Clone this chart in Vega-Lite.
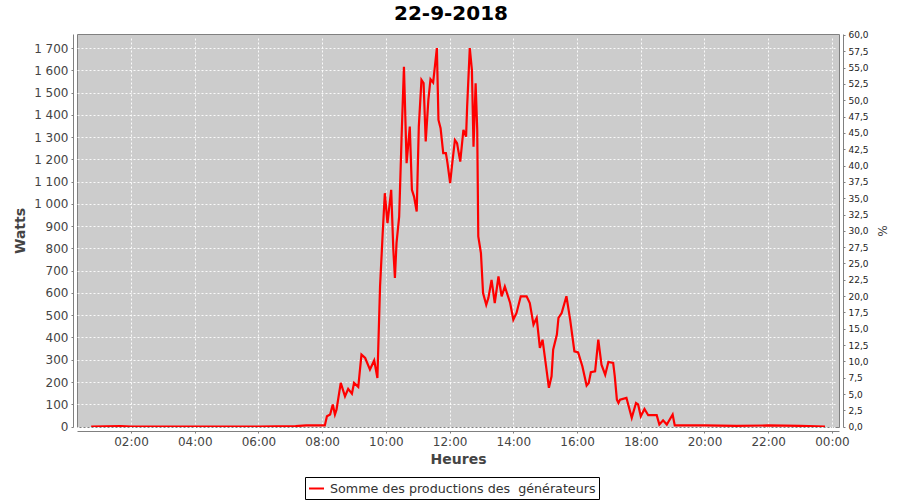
{
  "$schema": "https://vega.github.io/schema/vega-lite/v6.json",
  "width": 762,
  "height": 393,
  "autosize": {"type": "none"},
  "padding": {"left": 77, "top": 34, "right": 61, "bottom": 73},
  "background": "white",
  "title": {"text": "22-9-2018", "fontSize": 20, "fontWeight": "bold", "font": "DejaVu Sans", "color": "#000000", "anchor": "middle", "offset": 7, "dx": -7},
  "config": {
    "font": "DejaVu Sans",
    "view": {"fill": "#cccccc", "stroke": "#808080", "strokeWidth": 1},
    "axis": {
      "domainColor": "#808080", "tickColor": "#808080", "tickSize": 2,
      "labelFont": "DejaVu Sans", "labelFontSize": 12, "labelColor": "#444444",
      "titleFont": "DejaVu Sans", "titleFontSize": 14, "titleFontWeight": "bold", "titleColor": "#444444",
      "gridColor": "#ffffff", "gridDash": [2, 2], "gridWidth": 1, "gridOpacity": 0.9,
      "offset": 4, "labelPadding": 3
    }
  },
  "data": {"values": [
    {"t": "2018-09-22T00:45", "w": 0},
    {"t": "2018-09-22T01:40", "w": 2},
    {"t": "2018-09-22T02:00", "w": 0},
    {"t": "2018-09-22T04:00", "w": 0},
    {"t": "2018-09-22T06:00", "w": 0},
    {"t": "2018-09-22T07:10", "w": 2},
    {"t": "2018-09-22T07:30", "w": 5},
    {"t": "2018-09-22T08:00", "w": 5},
    {"t": "2018-09-22T08:05", "w": 5},
    {"t": "2018-09-22T08:09", "w": 46},
    {"t": "2018-09-22T08:15", "w": 54},
    {"t": "2018-09-22T08:20", "w": 99},
    {"t": "2018-09-22T08:24", "w": 54},
    {"t": "2018-09-22T08:27", "w": 76},
    {"t": "2018-09-22T08:35", "w": 196},
    {"t": "2018-09-22T08:43", "w": 136},
    {"t": "2018-09-22T08:49", "w": 169},
    {"t": "2018-09-22T08:56", "w": 148},
    {"t": "2018-09-22T09:00", "w": 196},
    {"t": "2018-09-22T09:08", "w": 178},
    {"t": "2018-09-22T09:14", "w": 323},
    {"t": "2018-09-22T09:21", "w": 308},
    {"t": "2018-09-22T09:30", "w": 256},
    {"t": "2018-09-22T09:38", "w": 297},
    {"t": "2018-09-22T09:44", "w": 218},
    {"t": "2018-09-22T09:49", "w": 629},
    {"t": "2018-09-22T09:54", "w": 869},
    {"t": "2018-09-22T09:58", "w": 1048},
    {"t": "2018-09-22T10:03", "w": 914},
    {"t": "2018-09-22T10:10", "w": 1063},
    {"t": "2018-09-22T10:14", "w": 794},
    {"t": "2018-09-22T10:17", "w": 667},
    {"t": "2018-09-22T10:20", "w": 824},
    {"t": "2018-09-22T10:25", "w": 943},
    {"t": "2018-09-22T10:30", "w": 1332},
    {"t": "2018-09-22T10:34", "w": 1616},
    {"t": "2018-09-22T10:39", "w": 1183},
    {"t": "2018-09-22T10:45", "w": 1347},
    {"t": "2018-09-22T10:49", "w": 1063},
    {"t": "2018-09-22T10:53", "w": 1033},
    {"t": "2018-09-22T10:58", "w": 966},
    {"t": "2018-09-22T11:02", "w": 1347},
    {"t": "2018-09-22T11:07", "w": 1557},
    {"t": "2018-09-22T11:11", "w": 1542},
    {"t": "2018-09-22T11:15", "w": 1280},
    {"t": "2018-09-22T11:20", "w": 1467},
    {"t": "2018-09-22T11:24", "w": 1560},
    {"t": "2018-09-22T11:29", "w": 1545},
    {"t": "2018-09-22T11:36", "w": 1700},
    {"t": "2018-09-22T11:39", "w": 1377},
    {"t": "2018-09-22T11:43", "w": 1340},
    {"t": "2018-09-22T11:48", "w": 1228},
    {"t": "2018-09-22T11:53", "w": 1228},
    {"t": "2018-09-22T11:56", "w": 1183},
    {"t": "2018-09-22T12:01", "w": 1093},
    {"t": "2018-09-22T12:05", "w": 1183},
    {"t": "2018-09-22T12:10", "w": 1287},
    {"t": "2018-09-22T12:14", "w": 1273},
    {"t": "2018-09-22T12:20", "w": 1190},
    {"t": "2018-09-22T12:26", "w": 1332},
    {"t": "2018-09-22T12:31", "w": 1302},
    {"t": "2018-09-22T12:33", "w": 1437},
    {"t": "2018-09-22T12:38", "w": 1700},
    {"t": "2018-09-22T12:42", "w": 1601},
    {"t": "2018-09-22T12:45", "w": 1257},
    {"t": "2018-09-22T12:49", "w": 1542},
    {"t": "2018-09-22T12:52", "w": 1332},
    {"t": "2018-09-22T12:54", "w": 854},
    {"t": "2018-09-22T12:59", "w": 779},
    {"t": "2018-09-22T13:03", "w": 600},
    {"t": "2018-09-22T13:09", "w": 547},
    {"t": "2018-09-22T13:13", "w": 577},
    {"t": "2018-09-22T13:19", "w": 659},
    {"t": "2018-09-22T13:25", "w": 555},
    {"t": "2018-09-22T13:32", "w": 674},
    {"t": "2018-09-22T13:38", "w": 585},
    {"t": "2018-09-22T13:44", "w": 629},
    {"t": "2018-09-22T13:54", "w": 555},
    {"t": "2018-09-22T14:00", "w": 480},
    {"t": "2018-09-22T14:06", "w": 510},
    {"t": "2018-09-22T14:14", "w": 585},
    {"t": "2018-09-22T14:25", "w": 585},
    {"t": "2018-09-22T14:31", "w": 555},
    {"t": "2018-09-22T14:38", "w": 458},
    {"t": "2018-09-22T14:44", "w": 488},
    {"t": "2018-09-22T14:50", "w": 353},
    {"t": "2018-09-22T14:55", "w": 390},
    {"t": "2018-09-22T15:00", "w": 301},
    {"t": "2018-09-22T15:07", "w": 174},
    {"t": "2018-09-22T15:12", "w": 226},
    {"t": "2018-09-22T15:15", "w": 345},
    {"t": "2018-09-22T15:22", "w": 413},
    {"t": "2018-09-22T15:25", "w": 488},
    {"t": "2018-09-22T15:31", "w": 510},
    {"t": "2018-09-22T15:40", "w": 585},
    {"t": "2018-09-22T15:47", "w": 480},
    {"t": "2018-09-22T15:55", "w": 338},
    {"t": "2018-09-22T16:02", "w": 333},
    {"t": "2018-09-22T16:10", "w": 271},
    {"t": "2018-09-22T16:18", "w": 184},
    {"t": "2018-09-22T16:22", "w": 196},
    {"t": "2018-09-22T16:26", "w": 244},
    {"t": "2018-09-22T16:34", "w": 248},
    {"t": "2018-09-22T16:40", "w": 390},
    {"t": "2018-09-22T16:46", "w": 278},
    {"t": "2018-09-22T16:53", "w": 233},
    {"t": "2018-09-22T16:59", "w": 290},
    {"t": "2018-09-22T17:08", "w": 286},
    {"t": "2018-09-22T17:11", "w": 226},
    {"t": "2018-09-22T17:15", "w": 121},
    {"t": "2018-09-22T17:18", "w": 106},
    {"t": "2018-09-22T17:21", "w": 121},
    {"t": "2018-09-22T17:33", "w": 129},
    {"t": "2018-09-22T17:43", "w": 39},
    {"t": "2018-09-22T17:51", "w": 106},
    {"t": "2018-09-22T17:55", "w": 99},
    {"t": "2018-09-22T18:00", "w": 46},
    {"t": "2018-09-22T18:07", "w": 79},
    {"t": "2018-09-22T18:14", "w": 51},
    {"t": "2018-09-22T18:30", "w": 51},
    {"t": "2018-09-22T18:35", "w": 9},
    {"t": "2018-09-22T18:42", "w": 28},
    {"t": "2018-09-22T18:49", "w": 9},
    {"t": "2018-09-22T19:00", "w": 54},
    {"t": "2018-09-22T19:04", "w": 5},
    {"t": "2018-09-22T20:00", "w": 5},
    {"t": "2018-09-22T21:00", "w": 3},
    {"t": "2018-09-22T22:00", "w": 5},
    {"t": "2018-09-22T23:00", "w": 3},
    {"t": "2018-09-22T23:47", "w": 0}
  ]},
  "layer": [
    {
      "mark": {"type": "line", "strokeWidth": 2.2, "clip": true},
      "encoding": {
        "x": {
          "field": "t", "type": "temporal",
          "scale": {"domain": [
            {"year": 2018, "month": 9, "date": 22, "hours": 0, "minutes": 18, "seconds": 18},
            {"year": 2018, "month": 9, "date": 23, "hours": 0, "minutes": 13, "seconds": 18}
          ]},
          "axis": {
            "title": "Heures", "format": "%H:%M", "grid": true, "titlePadding": 5,
            "values": [
              {"year": 2018, "month": 9, "date": 22, "hours": 2},
              {"year": 2018, "month": 9, "date": 22, "hours": 4},
              {"year": 2018, "month": 9, "date": 22, "hours": 6},
              {"year": 2018, "month": 9, "date": 22, "hours": 8},
              {"year": 2018, "month": 9, "date": 22, "hours": 10},
              {"year": 2018, "month": 9, "date": 22, "hours": 12},
              {"year": 2018, "month": 9, "date": 22, "hours": 14},
              {"year": 2018, "month": 9, "date": 22, "hours": 16},
              {"year": 2018, "month": 9, "date": 22, "hours": 18},
              {"year": 2018, "month": 9, "date": 22, "hours": 20},
              {"year": 2018, "month": 9, "date": 22, "hours": 22},
              {"year": 2018, "month": 9, "date": 23, "hours": 0}
            ]
          }
        },
        "y": {
          "field": "w", "type": "quantitative",
          "scale": {"domain": [-2, 1763], "nice": false, "zero": false},
          "axis": {
            "title": "Watts",
            "values": [0, 100, 200, 300, 400, 500, 600, 700, 800, 900, 1000, 1100, 1200, 1300, 1400, 1500, 1600, 1700],
            "labelExpr": "replace(format(datum.value, ','), ',', ' ')",
            "grid": true, "titlePadding": 6
          }
        },
        "color": {
          "datum": "Somme des productions des\u00a0 générateurs", "type": "nominal",
          "scale": {"range": ["#ff0000"]},
          "legend": {
            "title": null, "orient": "none", "legendX": 228, "legendY": 443,
            "strokeColor": "#000000", "padding": 3,
            "symbolType": "stroke", "symbolStrokeWidth": 2, "symbolSize": 225, "labelOffset": 5,
            "labelFont": "DejaVu Sans", "labelFontSize": 12.7, "labelColor": "#333333", "labelLimit": 0
          }
        }
      }
    },
    {
      "mark": {"type": "line", "opacity": 0, "clip": true},
      "encoding": {
        "x": {"field": "t", "type": "temporal"},
        "y": {
          "field": "w", "type": "quantitative",
          "scale": {"domain": [-0.05, 60.15], "nice": false, "zero": false},
          "axis": {
            "orient": "right", "title": "%",
            "values": [0, 2.5, 5, 7.5, 10, 12.5, 15, 17.5, 20, 22.5, 25, 27.5, 30, 32.5, 35, 37.5, 40, 42.5, 45, 47.5, 50, 52.5, 55, 57.5, 60],
            "labelExpr": "replace(format(datum.value, '.1f'), '.', ',')",
            "labelFontSize": 9, "labelColor": "#222222", "grid": false,
            "titleFontWeight": "normal", "titleFontSize": 12, "titlePadding": 6
          }
        }
      }
    }
  ],
  "resolve": {"scale": {"y": "independent"}}
}
